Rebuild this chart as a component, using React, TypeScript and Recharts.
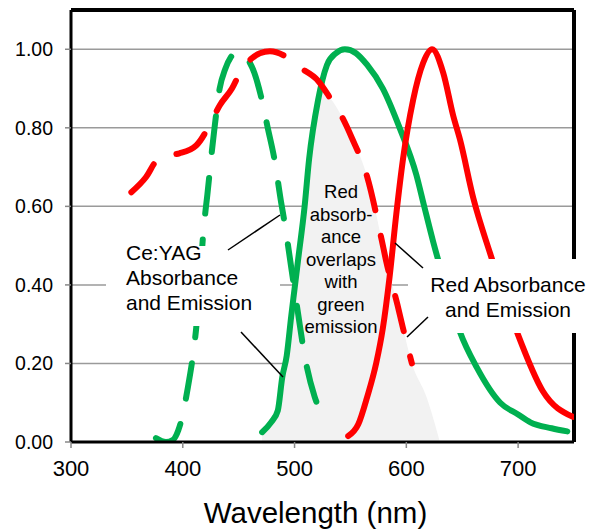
import { ComposedChart, Line, Area, XAxis, YAxis, CartesianGrid, ReferenceLine } from 'recharts'

const FONT = '"Liberation Sans", Arial, Helvetica, sans-serif'
const GREEN = '#00b050'
const RED = '#ff0000'

// [wavelength nm, normalised intensity]
const greenAbsorbance: [number, number][] = [
  [376, 0.01], [385, 0.0], [391, 0.005], [396, 0.03], [400, 0.07], [404, 0.13], [410, 0.24],
  [412, 0.29], [415, 0.4], [418, 0.52], [420, 0.58], [422, 0.63], [426, 0.74], [428, 0.79],
  [433, 0.9], [438, 0.95], [443, 0.98], [450, 0.995], [458, 0.975], [464, 0.94], [470, 0.88],
  [476, 0.8], [482, 0.72], [488, 0.61], [491, 0.56], [497, 0.445], [503, 0.33], [509, 0.22],
  [518, 0.115], [527, 0.06],
]
const greenEmission: [number, number][] = [
  [471, 0.025], [479, 0.05], [485, 0.08], [489, 0.165], [493, 0.22], [497, 0.32], [500, 0.39],
  [503, 0.46], [509, 0.6], [513, 0.72], [521, 0.87], [529, 0.96], [537, 0.99], [545, 1.0],
  [555, 0.99], [565, 0.96], [579, 0.9], [594, 0.8], [609, 0.68], [616, 0.6], [624, 0.51],
  [636, 0.39], [648, 0.28], [663, 0.19], [684, 0.1], [700, 0.07], [711, 0.05], [730, 0.035],
  [744, 0.027],
]
const redAbsorbance: [number, number][] = [
  [354, 0.636], [367, 0.674], [377, 0.718], [387, 0.73], [397, 0.735], [412, 0.755], [424, 0.807],
  [433, 0.857], [444, 0.9], [453, 0.95], [461, 0.975], [469, 0.99], [478, 0.995], [493, 0.98],
  [504, 0.955], [521, 0.92], [532, 0.875], [542, 0.83], [551, 0.776], [565, 0.675], [578, 0.514],
  [582, 0.46], [592, 0.35], [597, 0.29], [605, 0.2],
]
const redEmission: [number, number][] = [
  [548, 0.015], [557, 0.045], [565, 0.115], [573, 0.2], [579, 0.29], [585, 0.42], [591, 0.58],
  [597, 0.72], [606, 0.87], [615, 0.965], [623, 1.0], [633, 0.94], [642, 0.83], [648, 0.77],
  [660, 0.62], [675, 0.48], [699, 0.28], [722, 0.13], [749, 0.064],
]
// shaded overlap of red absorbance and green emission
const overlap: [number, number][] = [
  [471, 0.025], [479, 0.05], [485, 0.08], [489, 0.165], [493, 0.22], [497, 0.32], [500, 0.39],
  [503, 0.46], [509, 0.6], [513, 0.72], [521, 0.87], [524, 0.9], [532, 0.875], [542, 0.83],
  [551, 0.776], [565, 0.675], [578, 0.514], [582, 0.46], [592, 0.35], [597, 0.29], [605, 0.2],
  [618, 0.115], [630, 0.0],
]

const xTicks = [300, 400, 500, 600, 700]
const yTicks = [0, 0.2, 0.4, 0.6, 0.8, 1.0]

const middleNote = ['Red', 'absorb-', 'ance', 'overlaps', 'with', 'green', 'emission']
const yagNote = ['Ce:YAG', 'Absorbance', 'and Emission']
const redNote = ['Red Absorbance', 'and Emission']

function buildRows() {
  const series: Record<string, [number, number][]> = {
    greenAbs: greenAbsorbance,
    greenEm: greenEmission,
    redAbs: redAbsorbance,
    redEm: redEmission,
    overlap,
  }
  const map = new Map<number, Record<string, number>>()
  for (const [key, pts] of Object.entries(series)) {
    for (const [x, y] of pts) {
      const row = map.get(x) ?? { x }
      row[key] = y
      map.set(x, row)
    }
  }
  return [...map.values()].sort((a, b) => a.x - b.x)
}

export default function App() {
  const rows = buildRows()
  const lineProps = { type: 'monotone' as const, dot: false, activeDot: false, connectNulls: true, isAnimationActive: false, strokeWidth: 6 }
  return (
    <div style={{ position: 'absolute', left: 0, top: 0, width: 591, height: 530, fontFamily: FONT }}>
      <ComposedChart width={591} height={530} data={rows} margin={{ top: 10, right: 17, bottom: 0, left: 0 }} style={{ fontFamily: FONT }}>
        <Area dataKey="overlap" type="monotone" fill="#f2f2f2" fillOpacity={1} stroke="none" connectNulls isAnimationActive={false} />
        <CartesianGrid vertical={false} stroke="#9a9a9a" strokeWidth={1.5} />
        <XAxis
          dataKey="x" type="number" domain={[300, 750]} ticks={xTicks} allowDataOverflow height={88}
          tick={{ fill: '#000', fontSize: 22 }} tickSize={6} tickMargin={12}
          axisLine={{ stroke: '#000', strokeWidth: 3 }} tickLine={{ stroke: '#888', strokeWidth: 1.5 }}
          label={{ value: 'Wavelength (nm)', position: 'insideBottom', offset: 7, dx: -7, fontSize: 29.5, fill: '#000' }}
        />
        <YAxis
          type="number" domain={[0, 1.1]} ticks={yTicks} width={71} allowDataOverflow
          tick={{ fill: '#000', fontSize: 19.5 }} tickFormatter={(v: number) => v.toFixed(2)} tickSize={6} tickMargin={12}
          axisLine={{ stroke: '#000', strokeWidth: 3 }} tickLine={{ stroke: '#888', strokeWidth: 1.5 }}
        />
        <ReferenceLine y={1.1} stroke="#000" strokeWidth={4} />
        <ReferenceLine x={750} stroke="#000" strokeWidth={4} />
        <Line dataKey="greenAbs" stroke={GREEN} strokeDasharray="36 26" strokeLinecap="round" {...lineProps} />
        <Line dataKey="greenEm" stroke={GREEN} strokeLinecap="round" {...lineProps} />
        <Line dataKey="redAbs" stroke={RED} strokeDasharray="36 26" strokeLinecap="round" {...lineProps} />
        <Line dataKey="redEm" stroke={RED} strokeLinecap="round" {...lineProps} />
      </ComposedChart>
      <svg width={591} height={530} style={{ position: 'absolute', left: 0, top: 0, pointerEvents: 'none' }} fontFamily={FONT}>
        <rect x={106} y={246} width={174} height={80} fill="#fff" />
        <rect x={408} y={259} width={183} height={74} fill="#fff" />
        <g stroke="#000" strokeWidth={1.5}>
          <line x1={280} y1={215} x2={228} y2={250} />
          <line x1={241} y1={332} x2={283} y2={377} />
          <line x1={395} y1={243} x2={423} y2={268} />
          <line x1={428} y1={317} x2={407} y2={337} />
        </g>
        {yagNote.map((t, i) => (
          <text key={t} x={126} y={260 + i * 25} fontSize={21} fill="#000">{t}</text>
        ))}
        {redNote.map((t, i) => (
          <text key={t} x={508} y={292 + i * 25} fontSize={21} fill="#000" textAnchor="middle">{t}</text>
        ))}
        {middleNote.map((t, i) => (
          <text key={t} x={341} y={198 + i * 22.5} fontSize={18.5} fill="#000" textAnchor="middle">{t}</text>
        ))}
      </svg>
    </div>
  )
}
